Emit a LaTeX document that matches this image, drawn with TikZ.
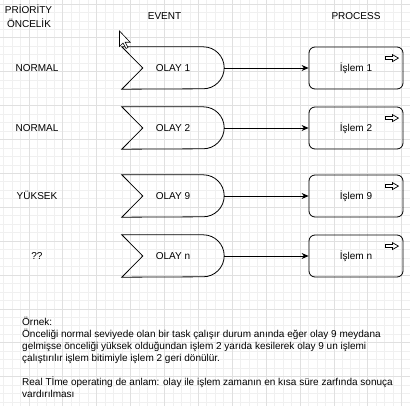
\documentclass[tikz,border=0pt]{standalone}
\usepackage{fontspec}
\setmainfont{Liberation Sans}
\usetikzlibrary{arrows.meta}
\begin{document}
\begin{tikzpicture}[x=1pt,y=-1pt,
    every node/.style={font=\fontsize{10}{12}\selectfont},
    lbl/.style={inner sep=0pt,text height=7.2pt,text depth=0pt},
    event/.style={lbl,minimum width=102pt,minimum height=42pt},
    process/.style={lbl,draw,line width=0.8pt,rounded corners=6pt,minimum width=94pt,minimum height=42pt},
    gridminor/.style={black!6,line width=0.4pt},
    gridmajor/.style={black!12,line width=0.4pt}]
  \useasboundingbox[fill=white] (0,0) rectangle (410,406);
  \foreach \i in {0,...,48} {
    \draw[gridminor] ({3.4+8.47*\i},0) -- ({3.4+8.47*\i},406);
    \draw[gridminor] (0,{3.8+8.47*\i}) -- (410,{3.8+8.47*\i});
  }
  \foreach \i in {0,...,12} {
    \draw[gridmajor] ({-5.1+33.88*\i},0) -- ({-5.1+33.88*\i},406);
    \draw[gridmajor] (0,{3.8+33.88*\i}) -- (410,{3.8+33.88*\i});
  }
  \node[lbl] (prio) at (28.5,10) {PRİORİTY};
  \node[lbl] (once) at (29,23.5) {ÖNCELİK};
  \node[lbl] (ev) at (164.5,16) {EVENT};
  \node[lbl] (pr) at (356,16) {PROCESS};
  \foreach \n/\y/\p in {1/68/NORMAL,2/128/NORMAL,9/196/YÜKSEK,n/256/??} {
    \node[lbl] (onc\n) at (37,\y) {\p};
    \node[event] (olay\n) at (173,\y) {OLAY \n};
    \node[process] (islem\n) at (356,\y) {İşlem \n};
  }
  \foreach \n in {1,2,9,n} {
    \draw[line width=0.8pt] (olay\n.north west) -- ([xshift=-21pt]olay\n.north east)
      arc[start angle=90,end angle=-90,radius=21pt] -- (olay\n.south west)
      -- ([xshift=21pt]olay\n.west) -- cycle;
    \draw[line width=0.7pt] ([shift={(-18,10)}]islem\n.north east) -- ++(7,0) -- ++(0,-2)
      -- ++(6,3.5) -- ++(-6,3.5) -- ++(0,-2) -- ++(-7,0) -- cycle;
  }
  \begin{scope}[-{Stealth[length=7pt,width=6pt]},line width=0.8pt]
    \draw (olay1.east) -- (islem1.west);
    \draw (olay2.east) -- (islem2.west);
    \draw (olay9.east) -- (islem9.west);
    \draw (olayn.east) -- (islemn.west);
  \end{scope}
  \draw[fill=white,line width=0.6pt] (119.5,31) -- ++(0,15.5) -- ++(3.5,-3.5) -- ++(3,5.5)
    -- ++(2,-1) -- ++(-2.8,-5.2) -- ++(5,0) -- cycle;
  \node[inner sep=0pt,anchor=north west,align=left] (note) at (22,317) {Örnek:\\
    Önceliği normal seviyede olan bir task çalışır durum anında eğer olay 9 meydana\\
    gelmişse önceliği yüksek olduğundan işlem 2 yarıda kesilerek olay 9 un işlemi\\
    çalıştırılır işlem bitimiyle işlem 2 geri dönülür.\\[12pt]
    Real Tİme operating de anlam: olay ile işlem zamanın en kısa süre zarfında sonuça\\
    vardırılması};
\end{tikzpicture}
\end{document}
